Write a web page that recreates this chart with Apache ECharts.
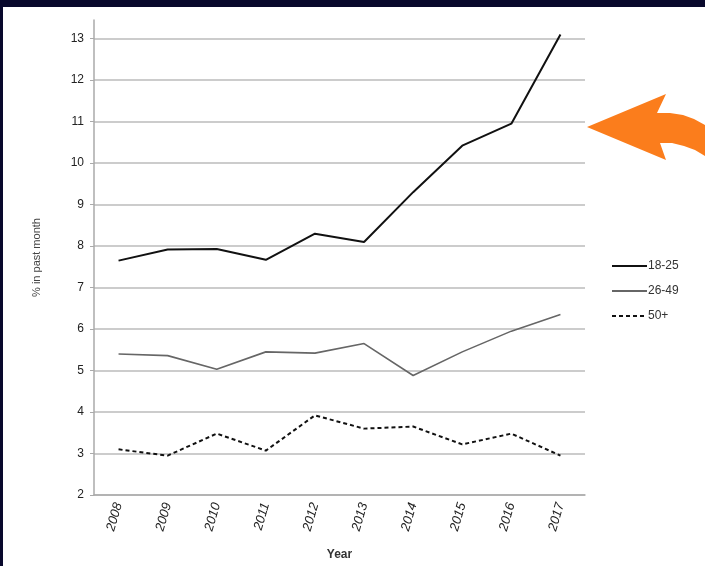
<!DOCTYPE html>
<html>
<head>
<meta charset="utf-8">
<script src="https://cdn.jsdelivr.net/npm/echarts@6/dist/echarts.min.js"></script>
<style>
    html, body { margin: 0; padding: 0; }
    body { width: 705px; height: 566px; background: #08082c; position: relative; overflow: hidden; }
    #wrap { position: absolute; left: 3px; top: 7px; width: 702px; height: 559px; background: #fff; }
</style>
</head>
<body>
<div id="wrap"></div>
<script>
var years = ['2008', '2009', '2010', '2011', '2012', '2013', '2014', '2015', '2016', '2017'];
var young = [7.65, 7.92, 7.93, 7.67, 8.3, 8.1, 9.3, 10.42, 10.95, 13.1];     // 18-25
var middle = [5.4, 5.36, 5.03, 5.45, 5.42, 5.65, 4.88, 5.45, 5.95, 6.35];    // 26-49
var older = [3.1, 2.95, 3.48, 3.07, 3.92, 3.6, 3.65, 3.22, 3.48, 2.95];      // 50+
var seriesNames = ['18-25', '26-49', '50+'];

var myChart = echarts.init(document.getElementById('wrap'));
var font = 'Liberation Sans';

var option = {
    animation: false,
    backgroundColor: '#fff',
    grid: { left: 91, right: 120, top: 13, bottom: 71 },
    legend: {
        orient: 'vertical',
        left: 603,
        top: 247,
        itemWidth: 35,
        itemHeight: 14,
        itemGap: 11,
        data: seriesNames,
        itemStyle: { opacity: 0 },
        textStyle: { color: '#333', fontSize: 12, lineHeight: 14, fontFamily: font, padding: [0, 0, 0, -4] }
    },
    xAxis: {
        type: 'category',
        data: years,
        name: 'Year',
        nameLocation: 'middle',
        nameGap: 54,
        nameTextStyle: { color: '#333', fontSize: 12, fontWeight: 'bold', fontFamily: font },
        axisLine: { lineStyle: { color: '#aaa', width: 1.5 } },
        axisTick: { length: 5, lineStyle: { color: '#aaa' } },
        axisLabel: { rotate: 74, margin: 8, color: '#222', fontSize: 13, fontFamily: font, fontStyle: 'italic' }
    },
    yAxis: {
        type: 'value',
        min: 2,
        max: 13.45,
        interval: 1,
        name: '% in past month',
        nameLocation: 'middle',
        nameGap: 52,
        nameTextStyle: { color: '#444', fontSize: 11, fontFamily: font },
        axisLine: { show: true, lineStyle: { color: '#aaa', width: 1.5 } },
        axisTick: { show: true, length: 4, lineStyle: { color: '#aaa' } },
        axisLabel: { showMaxLabel: false, margin: 10, color: '#222', fontSize: 12, fontFamily: font },
        splitLine: { showMaxLine: false, lineStyle: { color: '#bbb', width: 1.5 } }
    },
    series: [{
        name: seriesNames[0],
        type: 'line',
        data: young,
        symbol: 'none',
        lineStyle: { color: '#111', width: 2 },
        itemStyle: { color: '#111' }
    }, {
        name: seriesNames[1],
        type: 'line',
        data: middle,
        symbol: 'none',
        lineStyle: { color: '#666', width: 1.6 },
        itemStyle: { color: '#666' }
    }, {
        name: seriesNames[2],
        type: 'line',
        data: older,
        symbol: 'none',
        lineStyle: { color: '#111', width: 2, type: [4, 3] },
        itemStyle: { color: '#111' }
    }],
    // the orange arrow pasted over the slide
    graphic: [{
        type: 'polygon',
        shape: {
            points: [[584, 120], [663, 87], [654, 106], [667, 106], [680, 108], [691, 112], [702, 118],
                [702, 149], [692, 143], [681, 139], [669, 136], [657, 136], [663, 153]]
        },
        style: { fill: '#fb7d1c' }
    }]
};
myChart.setOption(option);
</script>
</body>
</html>
